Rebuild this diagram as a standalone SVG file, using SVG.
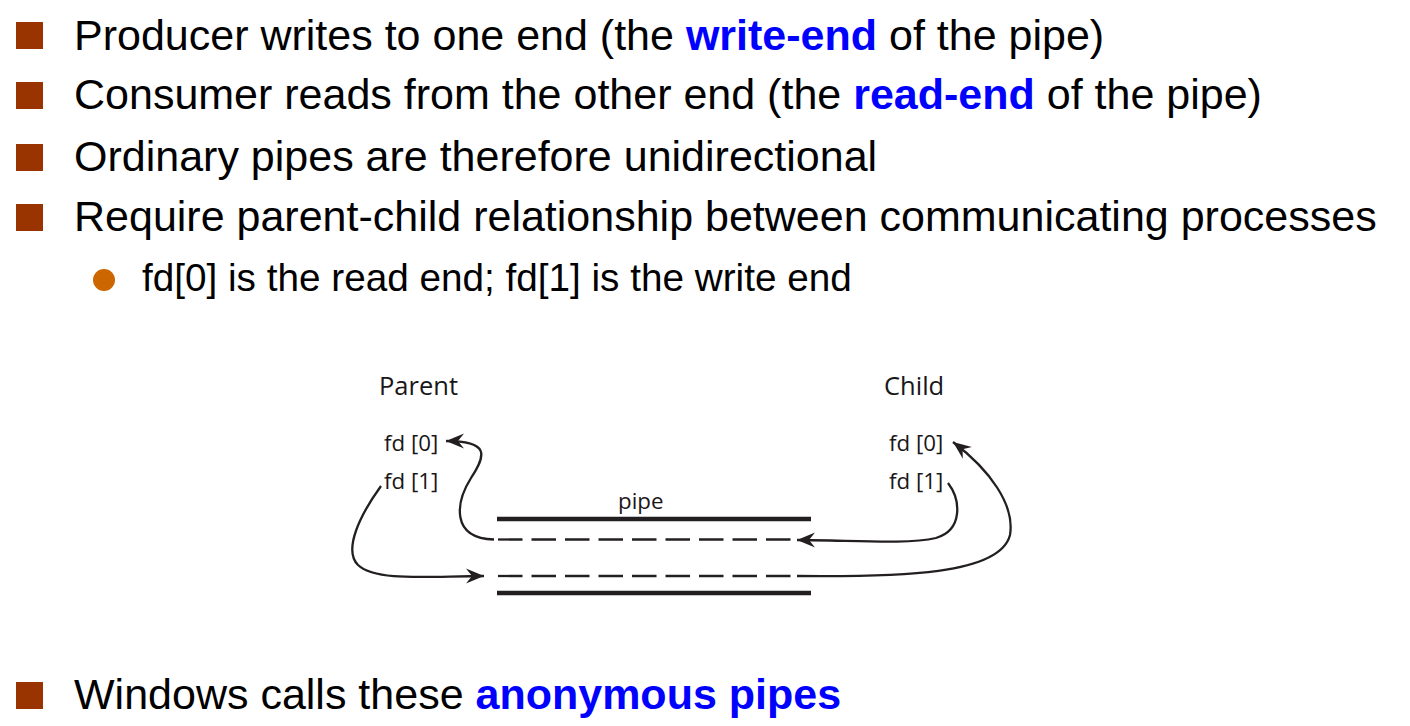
<svg xmlns="http://www.w3.org/2000/svg" width="1410" height="726" viewBox="0 0 1410 726">
<style>
.t{font-family:"Liberation Sans",Arial,sans-serif;font-size:43px;fill:#000}
.s{font-family:"Liberation Sans",Arial,sans-serif;font-size:38.7px;fill:#000}
.b{font-weight:bold;fill:#0000FF}
.sq{fill:#993300}
.d{font-family:"Open Sans","Noto Sans",sans-serif;fill:#1A1718}
.lbl{font-size:25.5px}
.fd{font-size:22.3px}
.solid{stroke:#231F20;stroke-width:4.5;fill:none}
.dash{stroke:#231F20;stroke-width:2.3;stroke-dasharray:24.5 9;fill:none}
.c{stroke:#231F20;stroke-width:2.3;fill:none;marker-end:url(#ah)}
</style>
<defs>
<marker id="ah" viewBox="-19 -8 21 16" markerWidth="21" markerHeight="16" refX="0" refY="0" orient="auto" markerUnits="userSpaceOnUse">
<path d="M0,0 L-18,-7.5 L-12,0 L-18,7.5 Z" fill="#231F20"/>
</marker>
</defs>
<rect width="1410" height="726" fill="#FFFFFF"/>
<g id="bullets">
<rect class="sq" x="16" y="22" width="27" height="27"/>
<text class="t" x="74" y="50">Producer writes to one end (the <tspan class="b">write-end</tspan> of the pipe)</text>
<rect class="sq" x="16" y="82" width="27" height="27"/>
<text class="t" x="74" y="109">Consumer reads from the other end (the <tspan class="b">read-end</tspan> of the pipe)</text>
<rect class="sq" x="16" y="144" width="27" height="27"/>
<text class="t" x="74" y="171">Ordinary pipes are therefore unidirectional</text>
<rect class="sq" x="16" y="204" width="27" height="27"/>
<text class="t" x="74" y="231">Require parent-child relationship between communicating processes</text>
<circle cx="104" cy="280" r="11" fill="#CC6600"/>
<text class="s" x="142" y="291">fd[0] is the read end; fd[1] is the write end</text>
<rect class="sq" x="16" y="682" width="27" height="27"/>
<text class="t" x="74" y="709">Windows calls these <tspan class="b">anonymous pipes</tspan></text>
</g>
<g id="parent">
<text class="d lbl" x="379" y="395">Parent</text>
<text class="d fd" x="384" y="451">fd [0]</text>
<text class="d fd" x="384" y="489">fd [1]</text>
</g>
<g id="child">
<text class="d lbl" x="884" y="395">Child</text>
<text class="d fd" x="889" y="451">fd [0]</text>
<text class="d fd" x="889" y="489">fd [1]</text>
</g>
<g id="pipe">
<text class="d fd" x="618" y="509">pipe</text>
<line class="solid" x1="497" y1="519" x2="811" y2="519"/>
<line class="dash" x1="498" y1="539.5" x2="791" y2="539.5"/>
<line class="dash" x1="498" y1="576" x2="791" y2="576"/>
<line class="solid" x1="497" y1="593" x2="811" y2="593"/>
</g>
<g id="connectors">
<path class="c" d="M494,539.5 C450,538 456,502 471,478 C486,455 490,441 446,441"/>
<path class="c" d="M381,486 C360,515 343,550 358,565 C376,582 430,576 484,576"/>
<path class="c" d="M948,483 C961,500 963,530 936,538 C906,545 850,540 797,540"/>
<path class="c" d="M797,576 C900,577 1000,575 1010,535 C1015,505 990,470 953,442"/>
</g>
</svg>
